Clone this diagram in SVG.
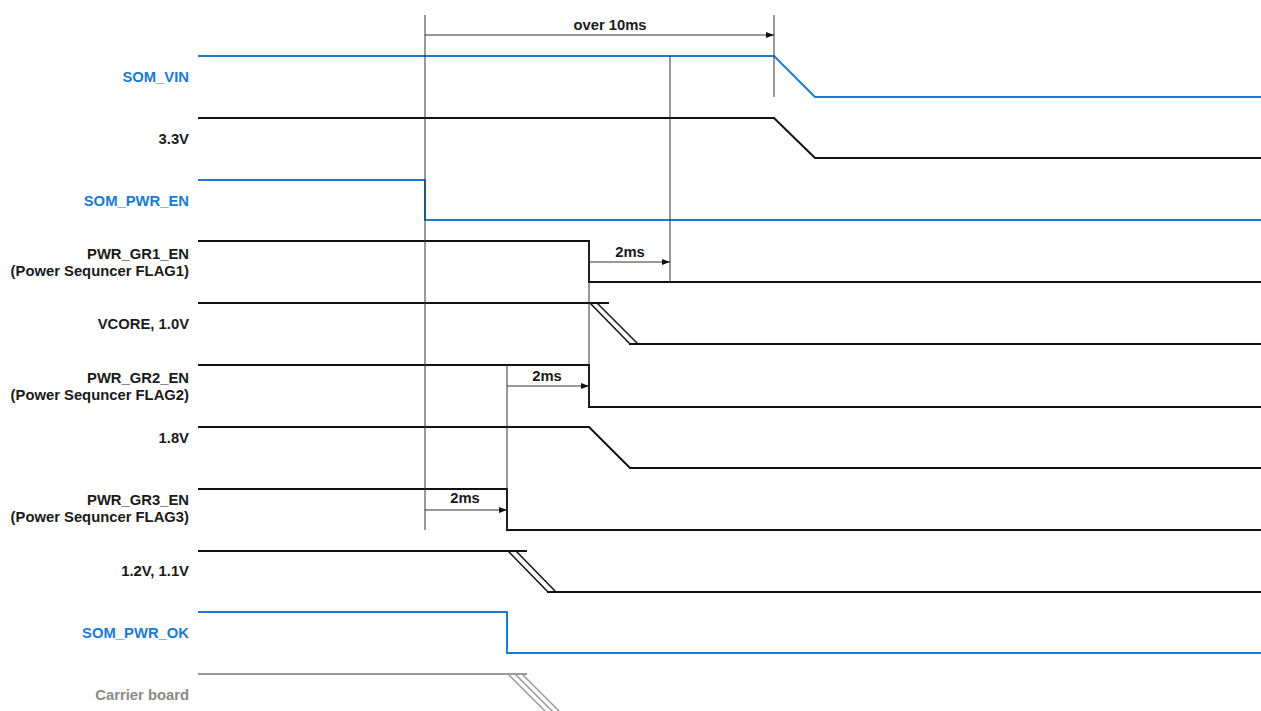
<svg xmlns="http://www.w3.org/2000/svg" width="1261" height="711" viewBox="0 0 1261 711">
<style>
.lbl{font-family:"Liberation Sans",Arial,sans-serif;font-weight:bold;font-size:14.8px;text-anchor:end}
.ann{font-family:"Liberation Sans",Arial,sans-serif;font-weight:bold;font-size:14.8px;text-anchor:middle;fill:#1a1a1a}
.blk{fill:#1a1a1a}
.blu{fill:#1b7bd0}
.gry{fill:#8a8a8a}
.sb{fill:none;stroke:#111;stroke-width:2}
.sbl{fill:none;stroke:#1b7bd0;stroke-width:2}
.sg{fill:none;stroke:#9a9a9a;stroke-width:2}
.thin{fill:none;stroke:#111;stroke-width:1.5}
.mk{fill:none;stroke:#333;stroke-width:1}
</style>
<defs>
<marker id="ah" markerWidth="8" markerHeight="6" refX="8" refY="3" orient="auto" markerUnits="userSpaceOnUse">
<path d="M0,0 L8,3 L0,6 Z" fill="#111"/>
</marker>
</defs>
<rect width="1261" height="711" fill="#fff"/>

<g id="sig-som-vin">
<text class="lbl blu" x="189" y="82">SOM_VIN</text>
<path class="sbl" d="M198,56 H774 L815,97 H1261"/>
</g>
<g id="sig-3v3">
<text class="lbl blk" x="189" y="144">3.3V</text>
<path class="sb" d="M198,118 H774 L815,158 H1261"/>
</g>
<g id="sig-som-pwr-en">
<text class="lbl blu" x="189" y="206">SOM_PWR_EN</text>
<path class="sbl" d="M198,180 H425 V220 H1261"/>
</g>
<g id="sig-pwr-gr1-en">
<text class="lbl blk" x="189" y="259">PWR_GR1_EN</text>
<text class="lbl blk" x="189" y="276">(Power Sequncer FLAG1)</text>
<path class="sb" d="M198,241 H589 V282 H1261"/>
</g>
<g id="sig-vcore">
<text class="lbl blk" x="189" y="329">VCORE, 1.0V</text>
<path class="sb" d="M198,303 H609"/>
<path class="thin" d="M590,303 L630,344"/>
<path class="thin" d="M597,303 L638,344"/>
<path class="sb" d="M629,344 H1261"/>
</g>
<g id="sig-pwr-gr2-en">
<text class="lbl blk" x="189" y="383">PWR_GR2_EN</text>
<text class="lbl blk" x="189" y="400">(Power Sequncer FLAG2)</text>
<path class="sb" d="M198,365 H589 V407 H1261"/>
</g>
<g id="sig-1v8">
<text class="lbl blk" x="189" y="443">1.8V</text>
<path class="sb" d="M198,427 H589 L630,468 H1261"/>
</g>
<g id="sig-pwr-gr3-en">
<text class="lbl blk" x="189" y="505">PWR_GR3_EN</text>
<text class="lbl blk" x="189" y="522">(Power Sequncer FLAG3)</text>
<path class="sb" d="M198,489 H507 V530 H1261"/>
</g>
<g id="sig-1v2">
<text class="lbl blk" x="189" y="576">1.2V, 1.1V</text>
<path class="sb" d="M198,551 H527"/>
<path class="thin" d="M508,551 L548,592"/>
<path class="thin" d="M516,551 L556,592"/>
<path class="sb" d="M547,592 H1261"/>
</g>
<g id="sig-som-pwr-ok">
<text class="lbl blu" x="189" y="638">SOM_PWR_OK</text>
<path class="sbl" d="M198,612 H507 V653 H1261"/>
</g>
<g id="sig-carrier">
<text class="lbl gry" x="189" y="700">Carrier board</text>
<path class="sg" d="M198,674 H527"/>
<path fill="none" stroke="#9a9a9a" stroke-width="1.5" d="M508,674 L548,714 M515,674 L555,714 M522,674 L562,714"/>
</g>

<g id="connectors">
<path class="mk" d="M425,15 V530"/>
<path class="mk" d="M774,15 V97"/>
<path class="mk" d="M670,56 V282"/>
<path class="mk" d="M589,241 V407"/>
<path class="mk" d="M507,365 V530"/>
<path class="mk" d="M425,35 H774" marker-end="url(#ah)"/>
<path class="mk" d="M589,262 H670" marker-end="url(#ah)"/>
<path class="mk" d="M507,386 H589" marker-end="url(#ah)"/>
<path class="mk" d="M425,510 H507" marker-end="url(#ah)"/>
<text class="ann" x="610" y="30">over 10ms</text>
<text class="ann" x="630" y="257">2ms</text>
<text class="ann" x="547" y="381">2ms</text>
<text class="ann" x="465" y="503">2ms</text>
</g>
</svg>
